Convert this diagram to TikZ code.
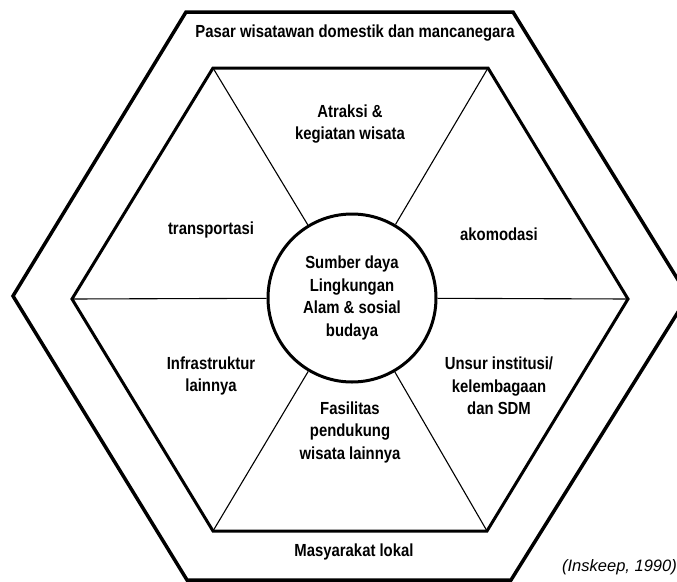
\documentclass[tikz,border=0pt]{standalone}
\usepackage{fontspec}
\setmainfont{Liberation Sans}
\newfontfamily\condfont[FakeStretch=0.85]{Liberation Sans}
\usepackage{tikz}
\usetikzlibrary{positioning}
\tikzstyle{hexouter} = [line width=3.5pt, line join=miter]
\tikzstyle{hexinner} = [line width=3pt, line join=miter]
\tikzstyle{spoke} = [line width=1.1pt]
\tikzstyle{hub} = [circle, draw, line width=3pt, minimum size=168pt, inner sep=0pt,
    align=center, font=\condfont\bfseries\fontsize{17.5}{22.5}\selectfont]
\tikzstyle{sector} = [align=center, inner sep=1pt,
    font=\condfont\bfseries\fontsize{17.5}{22.5}\selectfont]
\tikzstyle{source} = [anchor=east, inner sep=0pt, font=\itshape\fontsize{16.5}{18}\selectfont]

\begin{document}
\begin{tikzpicture}[x=1pt, y=-1pt]
\useasboundingbox (0,0) rectangle (677,581);

% outer ring
\draw[hexouter] (186,12) -- (513,12) -- (688,296) -- (511,580) -- (187,580) -- (13,296) -- cycle;

% inner hexagon
\coordinate (v1) at (213,68);
\coordinate (v2) at (488,68);
\coordinate (v3) at (628,299);
\coordinate (v4) at (487,531);
\coordinate (v5) at (213,531);
\coordinate (v6) at (72,299);
\draw[hexinner] (v1) -- (v2) -- (v3) -- (v4) -- (v5) -- (v6) -- cycle;

\node[hub] (hub) at (352,298) {Sumber daya\\Lingkungan\\Alam \& sosial\\budaya};
\foreach \v in {v1,v2,v3,v4,v5,v6}
  \draw[spoke] (hub) -- (\v);

\node[sector] (n1) at (350,124) {Atraksi \&\\kegiatan wisata};
\node[sector] (n2) at (499,234) {akomodasi};
\node[sector] (n3) at (499,386) {Unsur institusi/\\kelembagaan\\dan SDM};
\node[sector] (n4) at (350,432) {Fasilitas\\pendukung\\wisata lainnya};
\node[sector] (n5) at (211,376) {Infrastruktur\\lainnya};
\node[sector] (n6) at (211,230) {transportasi};

\node[sector] (pasar) at (355,33) {Pasar wisatawan domestik dan mancanegara};
\node[sector] (lokal) at (354,552) {Masyarakat lokal};
\node[source] (src) at (677,567) {(Inskeep, 1990)};
\end{tikzpicture}
\end{document}
